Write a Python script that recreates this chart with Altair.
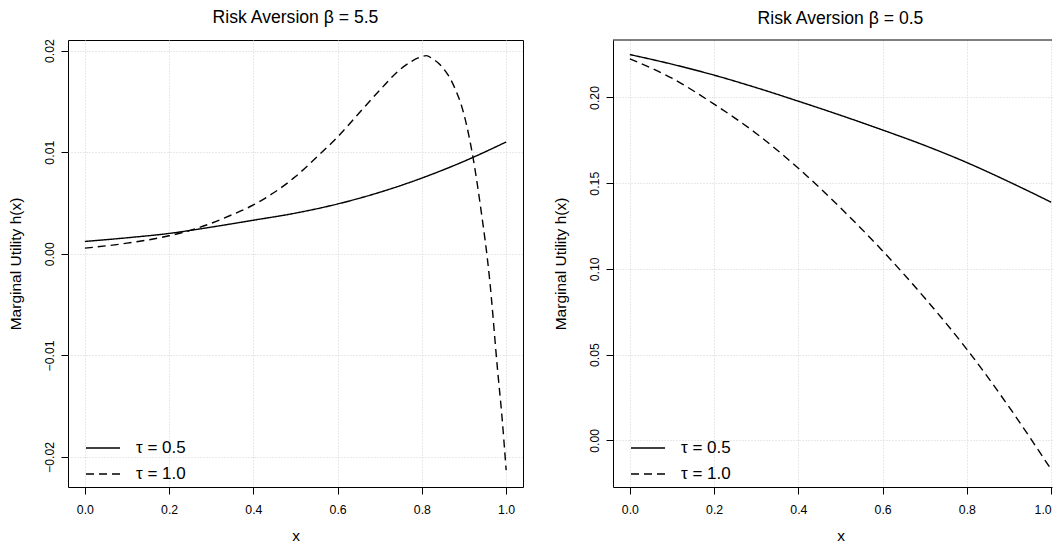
import altair as alt
import pandas as pd

FONT = "Liberation Sans"
LABELS = ["τ = 0.5", "τ = 1.0"]

# Left panel (beta = 5.5)
x_left_solid = [0.0, 0.1, 0.2, 0.3, 0.4, 0.5, 0.6, 0.7, 0.8, 0.9, 1.0]
h_left_solid = [0.00121, 0.00157, 0.00200, 0.00262, 0.00330, 0.00400, 0.00490,
                0.00605, 0.00745, 0.00910, 0.01100]
x_left_dashed = [0.0, 0.1, 0.2, 0.25, 0.3, 0.35, 0.4, 0.45, 0.5, 0.55, 0.6, 0.65,
                 0.7, 0.75, 0.8, 0.81, 0.825, 0.85, 0.875, 0.9, 0.92, 0.94, 0.96,
                 0.98, 0.99, 1.0]
h_left_dashed = [0.00055, 0.00104, 0.00177, 0.00230, 0.00300, 0.00385, 0.00480,
                 0.00605, 0.00760, 0.00950, 0.01150, 0.01380, 0.01610, 0.01820,
                 0.01940, 0.01950, 0.01920, 0.01830, 0.01660, 0.01370, 0.00980,
                 0.00440, -0.00220, -0.01160, -0.01600, -0.02130]

# Right panel (beta = 0.5)
x_right = [0.0, 0.1, 0.2, 0.3, 0.4, 0.5, 0.6, 0.7, 0.8, 0.9, 1.0]
h_right_solid = [0.2250, 0.2194, 0.2130, 0.2057, 0.1978, 0.1896, 0.1810, 0.1720,
                 0.1620, 0.1508, 0.1389]
h_right_dashed = [0.2225, 0.2112, 0.1961, 0.1790, 0.1587, 0.1356, 0.1105, 0.0830,
                  0.0531, 0.0195, -0.0170]

x_ticks = [0.0, 0.2, 0.4, 0.6, 0.8, 1.0]
y_ticks_left = [-0.02, -0.01, 0.0, 0.01, 0.02]
y_ticks_right = [0.0, 0.05, 0.10, 0.15, 0.20]


def make_df(xs1, ys1, xs2, ys2):
    a = pd.DataFrame({"x": xs1, "h": ys1, "series": LABELS[0]})
    b = pd.DataFrame({"x": xs2, "h": ys2, "series": LABELS[1]})
    return pd.concat([a, b], ignore_index=True)


H = 447
W_LEFT = 455
W_RIGHT = 439
PX_PER_UNIT = W_LEFT / 1.08


def panel(df, title, ydomain, yticks, width, xmax, open_right, title_dx):
    xscale = alt.Scale(domain=[-0.04, xmax], nice=False, zero=False)
    yscale = alt.Scale(domain=ydomain, nice=False, zero=False)
    lines = alt.Chart(df).mark_line(
        color="black", strokeWidth=1.4, interpolate="monotone", clip=True
    ).encode(
        x=alt.X("x:Q", scale=xscale,
                axis=alt.Axis(values=x_ticks, format=".1f", title="x",
                              titleX=W_LEFT / 2, titleY=53,
                              domain=open_right)),
        y=alt.Y("h:Q", scale=yscale,
                axis=alt.Axis(values=yticks, format=".2f",
                              title="Marginal Utility h(x)",
                              titleX=-47.4, titleY=H / 2,
                              domain=open_right)),
        strokeDash=alt.StrokeDash(
            "series:N",
            scale=alt.Scale(domain=LABELS, range=[[1, 0], [8, 5]]),
            legend=alt.Legend(
                title=None, orient="none", legendX=17, legendY=390,
                padding=0, symbolType="stroke", symbolSize=1156,
                symbolStrokeWidth=1.4, symbolStrokeColor="black",
                labelFont=FONT, labelFontSize=17, labelColor="black",
                labelOffset=15, rowPadding=-22.6,
            ),
        ),
    )
    ttl = alt.TitleParams(
        title, font=FONT, fontSize=17.6, fontWeight="normal",
        color="black", anchor="middle", frame="group",
        baseline="alphabetic", offset=-1.9, dx=title_dx,
    )
    if open_right:
        top_edge = alt.Chart(pd.DataFrame({"edge": [0]})).mark_rule(
            color="black", strokeWidth=1
        ).encode(x=alt.value(0), x2=alt.value(width), y=alt.value(0))
        return alt.layer(lines, top_edge).properties(
            width=width, height=H, title=ttl,
            view=alt.ViewBackground(stroke="transparent"),
        )
    return alt.layer(lines).properties(width=width, height=H, title=ttl)


left = panel(make_df(x_left_solid, h_left_solid, x_left_dashed, h_left_dashed),
             "Risk Aversion β = 5.5", [-0.02296, 0.02104], y_ticks_left,
             W_LEFT, 1.04, False, 0)
right = panel(make_df(x_right, h_right_solid, x_right, h_right_dashed),
              "Risk Aversion β = 0.5", [-0.0272, 0.2335], y_ticks_right,
              W_RIGHT, -0.04 + W_RIGHT / PX_PER_UNIT, True,
              (W_LEFT - W_RIGHT) / 2)

chart = alt.hconcat(left, right, spacing=29).resolve_scale(
    strokeDash="independent"
).resolve_legend(
    strokeDash="independent"
).properties(
    padding={"top": 0, "left": 0, "right": 0, "bottom": 0},
    background="white",
).configure_view(
    stroke="black", strokeWidth=1
).configure_axis(
    domain=False, domainColor="black", domainWidth=1,
    grid=True, gridColor="#d3d3d3", gridDash=[1, 2],
    gridWidth=1, ticks=True, tickColor="black", tickSize=7, tickWidth=1,
    labelFont=FONT, labelFontSize=12.3, labelColor="black",
    titleFont=FONT, titleFontSize=15.5, titleFontWeight="normal",
    titleColor="black",
).configure_axisY(
    labelAngle=270, labelAlign="center", labelBaseline="alphabetic",
    labelPadding=8, titleAngle=270, titleAlign="center",
    titleBaseline="alphabetic",
).configure_axisX(
    labelBaseline="alphabetic", labelPadding=19.7, titleBaseline="alphabetic",
    titleAlign="center",
)

chart.save("out.html", embed_options={"renderer": "svg", "actions": False})
